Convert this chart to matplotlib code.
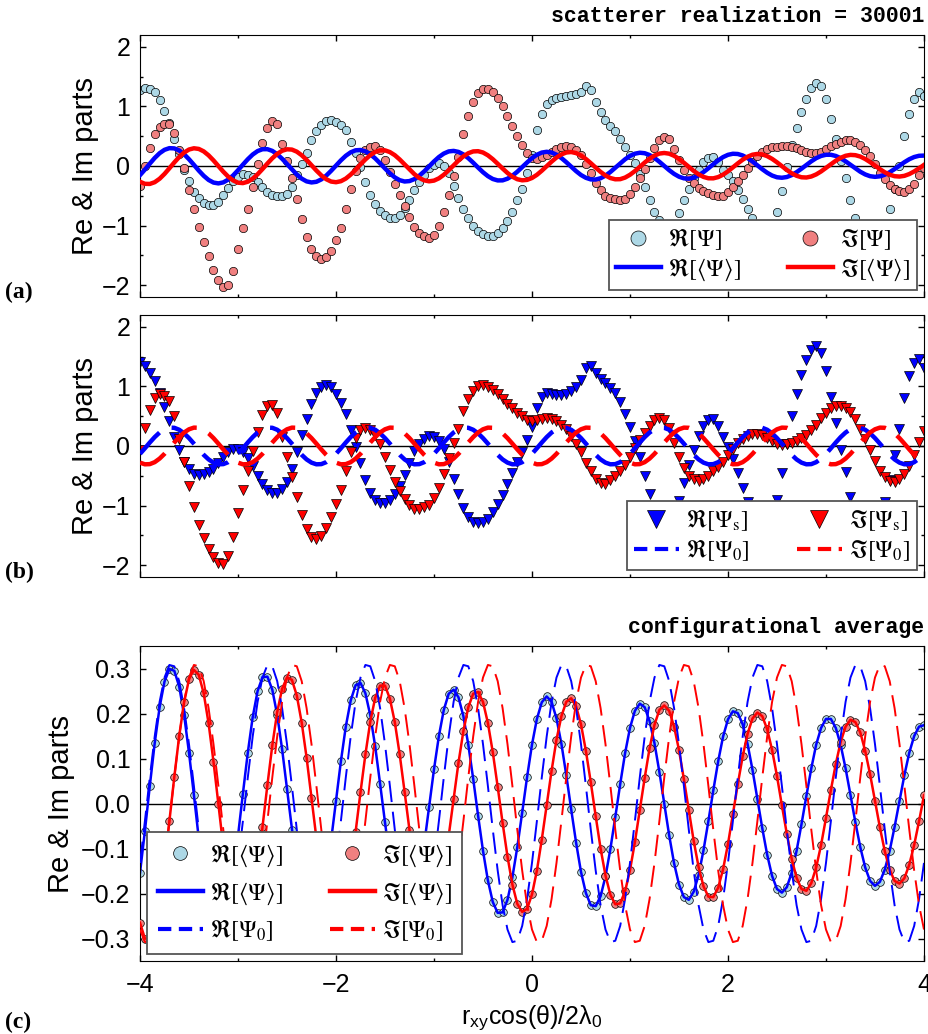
import numpy as np
import matplotlib
matplotlib.use("Agg")
import matplotlib.pyplot as plt
from matplotlib.ticker import FuncFormatter

plt.rcParams['font.family'] = ['Liberation Sans', 'DejaVu Sans']
plt.rcParams['mathtext.fontset'] = 'stix'

# x grid : r_xy cos(theta) / 2 lambda_0, step 0.05
x = np.round(np.arange(161) * 0.05 - 4.0, 2)

# single realization (panel a)
re_psi = [1.27, 1.31, 1.29, 1.24, 1.11, 0.93, 0.72, 0.45, 0.20, -0.06,
          -0.26, -0.43, -0.54, -0.62, -0.66, -0.66, -0.60, -0.49, -0.37, -0.26,
          -0.18, -0.14, -0.15, -0.18, -0.27, -0.36, -0.43, -0.48, -0.51, -0.51,
          -0.47, -0.35, -0.16, 0.03, 0.22, 0.43, 0.58, 0.69, 0.75, 0.77,
          0.74, 0.69, 0.60, 0.41, 0.21, -0.01, -0.27, -0.48, -0.64, -0.75,
          -0.83, -0.87, -0.87, -0.82, -0.71, -0.57, -0.40, -0.27, -0.15, -0.04,
          0.02, 0.05, 0.00, -0.12, -0.33, -0.53, -0.73, -0.88, -1.00, -1.09,
          -1.15, -1.18, -1.17, -1.13, -1.05, -0.92, -0.77, -0.58, -0.38, -0.12,
          0.18, 0.60, 0.88, 1.04, 1.10, 1.14, 1.16, 1.18, 1.19, 1.21,
          1.24, 1.35, 1.28, 1.08, 0.90, 0.77, 0.67, 0.58, 0.46, 0.32,
          0.19, 0.05, -0.13, -0.36, -0.58, -0.77, -0.90, -1.02, -1.07, -1.00,
          -0.79, -0.58, -0.38, -0.21, -0.06, 0.06, 0.13, 0.15, 0.07, -0.06,
          -0.15, -0.26, -0.40, -0.56, -0.72, -0.87, -1.00, -1.10, -1.12, -1.02,
          -0.78, -0.42, -0.02, 0.36, 0.64, 0.91, 1.13, 1.31, 1.40, 1.35,
          1.13, 0.79, 0.45, 0.08, -0.21, -0.57, -0.88, -1.17, -1.38, -1.47,
          -1.42, -1.25, -1.00, -0.72, -0.38, 0.00, 0.50, 0.87, 1.12, 1.25,
          1.18]
im_psi = [-0.34, 0.00, 0.30, 0.53, 0.66, 0.71, 0.71, 0.56, 0.27, -0.04,
          -0.40, -0.72, -1.02, -1.28, -1.52, -1.74, -1.92, -2.04, -2.00, -1.76,
          -1.40, -1.05, -0.72, -0.35, 0.03, 0.38, 0.63, 0.75, 0.70, 0.37,
          0.09, -0.21, -0.56, -0.89, -1.19, -1.40, -1.52, -1.57, -1.53, -1.42,
          -1.25, -1.05, -0.72, -0.38, -0.08, 0.14, 0.26, 0.32, 0.33, 0.26,
          0.10, -0.10, -0.30, -0.49, -0.68, -0.86, -1.02, -1.12, -1.18, -1.21,
          -1.16, -1.01, -0.77, -0.48, -0.17, 0.15, 0.54, 0.84, 1.07, 1.23,
          1.30, 1.30, 1.25, 1.14, 1.00, 0.84, 0.67, 0.50, 0.35, 0.21,
          0.14, 0.12, 0.15, 0.19, 0.24, 0.29, 0.32, 0.34, 0.32, 0.26,
          0.18, 0.03, -0.12, -0.28, -0.41, -0.50, -0.54, -0.56, -0.57, -0.55,
          -0.47, -0.35, -0.20, -0.05, 0.13, 0.30, 0.43, 0.49, 0.45, 0.28,
          0.10, -0.07, -0.20, -0.29, -0.37, -0.42, -0.46, -0.48, -0.51, -0.50,
          -0.44, -0.36, -0.26, -0.15, -0.04, 0.07, 0.16, 0.24, 0.29, 0.31,
          0.32, 0.33, 0.33, 0.32, 0.30, 0.26, 0.23, 0.21, 0.21, 0.24,
          0.28, 0.33, 0.37, 0.40, 0.43, 0.44, 0.41, 0.35, 0.26, 0.16,
          0.03, -0.11, -0.22, -0.32, -0.39, -0.42, -0.43, -0.39, -0.30, -0.16,
          -0.03]

# incident field Psi_0
re_psi0 = [-0.132, -0.039, 0.058, 0.149, 0.226, 0.280, 0.308, 0.305, 0.272, 0.212,
           0.132, 0.039, -0.058, -0.149, -0.226, -0.280, -0.308, -0.305, -0.272, -0.212,
           -0.132, -0.039, 0.058, 0.149, 0.226, 0.280, 0.308, 0.305, 0.272, 0.212,
           0.132, 0.039, -0.058, -0.149, -0.226, -0.280, -0.308, -0.305, -0.272, -0.212,
           -0.132, -0.039, 0.058, 0.149, 0.226, 0.280, 0.308, 0.305, 0.272, 0.212,
           0.132, 0.039, -0.058, -0.149, -0.226, -0.280, -0.308, -0.305, -0.272, -0.212,
           -0.132, -0.039, 0.058, 0.149, 0.226, 0.280, 0.308, 0.305, 0.272, 0.212,
           0.132, 0.039, -0.058, -0.149, -0.226, -0.280, -0.308, -0.305, -0.272, -0.212,
           -0.132, -0.039, 0.058, 0.149, 0.226, 0.280, 0.308, 0.305, 0.272, 0.212,
           0.132, 0.039, -0.058, -0.149, -0.226, -0.280, -0.308, -0.305, -0.272, -0.212,
           -0.132, -0.039, 0.058, 0.149, 0.226, 0.280, 0.308, 0.305, 0.272, 0.212,
           0.132, 0.039, -0.058, -0.149, -0.226, -0.280, -0.308, -0.305, -0.272, -0.212,
           -0.132, -0.039, 0.058, 0.149, 0.226, 0.280, 0.308, 0.305, 0.272, 0.212,
           0.132, 0.039, -0.058, -0.149, -0.226, -0.280, -0.308, -0.305, -0.272, -0.212,
           -0.132, -0.039, 0.058, 0.149, 0.226, 0.280, 0.308, 0.305, 0.272, 0.212,
           0.132, 0.039, -0.058, -0.149, -0.226, -0.280, -0.308, -0.305, -0.272, -0.212,
           -0.132]
im_psi0 = [-0.280, -0.308, -0.305, -0.272, -0.212, -0.132, -0.039, 0.058, 0.149, 0.226,
           0.280, 0.308, 0.305, 0.272, 0.212, 0.132, 0.039, -0.058, -0.149, -0.226,
           -0.280, -0.308, -0.305, -0.272, -0.212, -0.132, -0.039, 0.058, 0.149, 0.226,
           0.280, 0.308, 0.305, 0.272, 0.212, 0.132, 0.039, -0.058, -0.149, -0.226,
           -0.280, -0.308, -0.305, -0.272, -0.212, -0.132, -0.039, 0.058, 0.149, 0.226,
           0.280, 0.308, 0.305, 0.272, 0.212, 0.132, 0.039, -0.058, -0.149, -0.226,
           -0.280, -0.308, -0.305, -0.272, -0.212, -0.132, -0.039, 0.058, 0.149, 0.226,
           0.280, 0.308, 0.305, 0.272, 0.212, 0.132, 0.039, -0.058, -0.149, -0.226,
           -0.280, -0.308, -0.305, -0.272, -0.212, -0.132, -0.039, 0.058, 0.149, 0.226,
           0.280, 0.308, 0.305, 0.272, 0.212, 0.132, 0.039, -0.058, -0.149, -0.226,
           -0.280, -0.308, -0.305, -0.272, -0.212, -0.132, -0.039, 0.058, 0.149, 0.226,
           0.280, 0.308, 0.305, 0.272, 0.212, 0.132, 0.039, -0.058, -0.149, -0.226,
           -0.280, -0.308, -0.305, -0.272, -0.212, -0.132, -0.039, 0.058, 0.149, 0.226,
           0.280, 0.308, 0.305, 0.272, 0.212, 0.132, 0.039, -0.058, -0.149, -0.226,
           -0.280, -0.308, -0.305, -0.272, -0.212, -0.132, -0.039, 0.058, 0.149, 0.226,
           0.280, 0.308, 0.305, 0.272, 0.212, 0.132, 0.039, -0.058, -0.149, -0.226,
           -0.280]

# configurational average <Psi>
re_avg = [-0.154, -0.061, 0.039, 0.134, 0.214, 0.271, 0.299, 0.295, 0.260, 0.197,
          0.113, 0.019, -0.078, -0.165, -0.235, -0.279, -0.293, -0.276, -0.230, -0.160,
          -0.072, 0.022, 0.113, 0.192, 0.250, 0.281, 0.282, 0.253, 0.197, 0.121,
          0.032, -0.059, -0.144, -0.213, -0.259, -0.277, -0.266, -0.226, -0.163, -0.082,
          0.006, 0.094, 0.171, 0.229, 0.263, 0.268, 0.245, 0.196, 0.127, 0.044,
          -0.042, -0.124, -0.192, -0.239, -0.261, -0.254, -0.221, -0.164, -0.091, -0.008,
          0.076, 0.150, 0.208, 0.244, 0.253, 0.236, 0.194, 0.131, 0.055, -0.027,
          -0.105, -0.171, -0.219, -0.243, -0.242, -0.214, -0.164, -0.097, -0.020, 0.059,
          0.131, 0.188, 0.225, 0.238, 0.226, 0.189, 0.133, 0.063, -0.013, -0.087,
          -0.152, -0.199, -0.226, -0.228, -0.206, -0.162, -0.101, -0.030, 0.043, 0.112,
          0.168, 0.206, 0.222, 0.214, 0.183, 0.134, 0.070, -0.001, -0.071, -0.133,
          -0.180, -0.208, -0.214, -0.196, -0.159, -0.104, -0.039, 0.029, 0.094, 0.149,
          0.187, 0.205, 0.201, 0.176, 0.132, 0.075, 0.010, -0.055, -0.114, -0.161,
          -0.190, -0.198, -0.186, -0.154, -0.105, -0.046, 0.017, 0.078, 0.131, 0.168,
          0.188, 0.188, 0.168, 0.130, 0.078, 0.019, -0.042, -0.097, -0.142, -0.172,
          -0.183, -0.174, -0.147, -0.105, -0.052, 0.006, 0.063, 0.113, 0.150, 0.171,
          0.174]
im_avg = [-0.265, -0.300, -0.302, -0.273, -0.215, -0.134, -0.039, 0.059, 0.150, 0.225,
          0.276, 0.297, 0.286, 0.245, 0.178, 0.093, -0.002, -0.096, -0.179, -0.243,
          -0.281, -0.288, -0.265, -0.214, -0.140, -0.052, 0.041, 0.129, 0.203, 0.255,
          0.280, 0.275, 0.240, 0.180, 0.102, 0.013, -0.077, -0.158, -0.222, -0.262,
          -0.273, -0.256, -0.212, -0.145, -0.063, 0.025, 0.109, 0.182, 0.235, 0.262,
          0.262, 0.233, 0.181, 0.109, 0.026, -0.059, -0.138, -0.201, -0.242, -0.258,
          -0.246, -0.208, -0.148, -0.072, 0.010, 0.091, 0.161, 0.214, 0.244, 0.248,
          0.226, 0.179, 0.114, 0.037, -0.043, -0.118, -0.180, -0.223, -0.241, -0.234,
          -0.202, -0.149, -0.080, -0.003, 0.073, 0.142, 0.194, 0.226, 0.234, 0.216,
          0.176, 0.117, 0.047, -0.028, -0.100, -0.160, -0.203, -0.224, -0.222, -0.195,
          -0.148, -0.086, -0.015, 0.057, 0.123, 0.175, 0.208, 0.218, 0.206, 0.171,
          0.119, 0.054, -0.015, -0.083, -0.141, -0.184, -0.207, -0.208, -0.187, -0.146,
          -0.090, -0.024, 0.043, 0.105, 0.155, 0.189, 0.202, 0.194, 0.165, 0.119,
          0.061, -0.004, -0.067, -0.123, -0.165, -0.190, -0.194, -0.177, -0.142, -0.092,
          -0.032, 0.030, 0.088, 0.137, 0.171, 0.186, 0.181, 0.158, 0.117, 0.065,
          0.006, -0.053, -0.106, -0.147, -0.172, -0.178, -0.166, -0.136, -0.092, -0.039,
          0.018]

# scattered part Psi_s = Psi - Psi_0 (panel b)
re_psis = np.array(re_psi) - np.array(re_psi0)
im_psis = np.array(im_psi) - np.array(im_psi0)

LBLUE = '#add8e6'
LRED = '#f08080'
serif = ['Liberation Serif', 'DejaVu Serif']
mono = ['Liberation Mono', 'DejaVu Sans Mono']


def style(ax, ylim, major, minor, labx=-0.052):
    ax.set_xlim(-4, 4)
    ax.set_ylim(*ylim)
    ax.set_xticks([-4, -2, 0, 2, 4])
    ax.set_xticks([-3, -1, 1, 3], minor=True)
    ax.set_yticks(major)
    if minor is not None:
        ax.set_yticks(minor, minor=True)
    ax.tick_params(which='both', direction='in', top=True, right=True,
                   width=1, labelsize=18)
    ax.tick_params(which='major', length=4.5, pad=7)
    ax.tick_params(which='minor', length=2.5)
    ax.tick_params(axis='x', pad=9)
    ax.axhline(0, color='k', lw=1, zorder=1)
    ax.set_ylabel('Re & Im parts', fontsize=21)
    ax.yaxis.set_label_coords(labx, 0.5)
    ax.yaxis.set_major_formatter(FuncFormatter(
        lambda v, p: ('%.1f' % v if abs(v) < 1 and len(major) > 5 else '%d' % round(v)).replace('-', '\u2212')))


def legend(ax, loc, spacing=0.2, pad=0.3):
    lg = ax.legend(loc=loc, ncol=2, prop={'size': 17}, frameon=True,
                   fancybox=False, framealpha=1, edgecolor='#555555',
                   handlelength=1.9, handletextpad=0.3, columnspacing=2.0,
                   borderpad=pad, labelspacing=spacing, markerscale=1.8,
                   borderaxespad=0.3)
    lg.get_frame().set_linewidth(1.3)
    for h in lg.get_lines():
        if h.get_linestyle() == '--':
            h.set_linewidth(3)
            h.set_dashes((3.2, 1.8))
        elif h.get_linestyle() == '-':
            h.set_linewidth(3.2)
    return lg


fig = plt.figure(figsize=(9.29, 10.34), dpi=100)
ax_a = fig.add_axes([0.1507, 0.7128, 0.8439, 0.2534])
ax_b = fig.add_axes([0.1507, 0.4420, 0.8439, 0.2534])
ax_c = fig.add_axes([0.1507, 0.0706, 0.8439, 0.3046])

# (a) one realization
ax_a.plot(x, re_psi, 'o', ls='none', ms=6, mfc=LBLUE, mec='k', mew=0.5,
          zorder=2, label=r'$\Re[\Psi]$')
ax_a.plot(x, re_avg, '-', color='#0000ff', lw=3.2, zorder=3,
          label=r'$\Re[\langle\Psi\rangle]$')
ax_a.plot(x, im_psi, 'o', ls='none', ms=6, mfc=LRED, mec='k', mew=0.5,
          zorder=2.1, label=r'$\Im[\Psi]$')
ax_a.plot(x, im_avg, '-', color='#ff0000', lw=3.2, zorder=3.1,
          label=r'$\Im[\langle\Psi\rangle]$')
style(ax_a, (-2.2, 2.2), [-2, -1, 0, 1, 2], [-1.5, -0.5, 0.5, 1.5])
ax_a.tick_params(labelbottom=False)
legend(ax_a, 'lower right')
ax_a.text(1.0, 1.05, 'scatterer realization = 30001', transform=ax_a.transAxes,
          ha='right', va='baseline', family=mono, weight='bold', fontsize=15.5)

# (b) scattered + incident
ax_b.plot(x, re_psis, 'v', ls='none', ms=7, mfc='#0000ff', mec='k', mew=0.5,
          zorder=2, label=r'$\Re[\Psi_{\mathrm{s}}]$')
ax_b.plot(x, re_psi0, '--', color='#0000ff', lw=3.2, dashes=(6.5, 3), zorder=3,
          label=r'$\Re[\Psi_0]$')
ax_b.plot(x, im_psis, 'v', ls='none', ms=7, mfc='#ff0000', mec='k', mew=0.5,
          zorder=2.1, label=r'$\Im[\Psi_{\mathrm{s}}]$')
ax_b.plot(x, im_psi0, '--', color='#ff0000', lw=3.2, dashes=(6.5, 3), zorder=3.1,
          label=r'$\Im[\Psi_0]$')
style(ax_b, (-2.2, 2.2), [-2, -1, 0, 1, 2], [-1.5, -0.5, 0.5, 1.5])
ax_b.tick_params(labelbottom=False)
legend(ax_b, 'lower right')

# (c) configurational average
ax_c.plot(x, re_avg, 'o', ls='none', ms=5.5, mfc=LBLUE, mec='k', mew=0.5,
          zorder=2, label=r'$\Re[\langle\Psi\rangle]$')
ax_c.plot(x, re_avg, '-', color='#0000ff', lw=1.8, zorder=2.5,
          label=r'$\Re[\langle\Psi\rangle]$')
ax_c.plot(x, re_psi0, '--', color='#0000ff', lw=1.4, dashes=(11, 5), zorder=4,
          label=r'$\Re[\Psi_0]$')
ax_c.plot(x, im_avg, 'o', ls='none', ms=5.5, mfc=LRED, mec='k', mew=0.5,
          zorder=3, label=r'$\Im[\langle\Psi\rangle]$')
ax_c.plot(x, im_avg, '-', color='#ff0000', lw=1.8, zorder=3.5,
          label=r'$\Im[\langle\Psi\rangle]$')
ax_c.plot(x, im_psi0, '--', color='#ff0000', lw=1.4, dashes=(11, 5), zorder=4.1,
          label=r'$\Im[\Psi_0]$')
style(ax_c, (-0.35, 0.35), [-0.3, -0.2, -0.1, 0.0, 0.1, 0.2, 0.3], None,
      labx=-0.083)
legend(ax_c, 'lower left', spacing=0.5, pad=0.45)
ax_c.set_xlabel('r$_\\mathregular{xy}$cos(\u03b8)/2\u03bb$_\\mathregular{0}$',
                fontsize=18, labelpad=4)
ax_c.text(1.0, 1.041, 'configurational average', transform=ax_c.transAxes,
          ha='right', va='baseline', family=mono, weight='bold', fontsize=15.5)

for lab, yc in (('(a)', 292), ('(b)', 572), ('(c)', 1022)):
    fig.text(0.005, 1 - yc / 1034, lab, ha='left', va='center', family=serif,
             weight='bold', fontsize=17)

fig.savefig('out.png', dpi=100)
